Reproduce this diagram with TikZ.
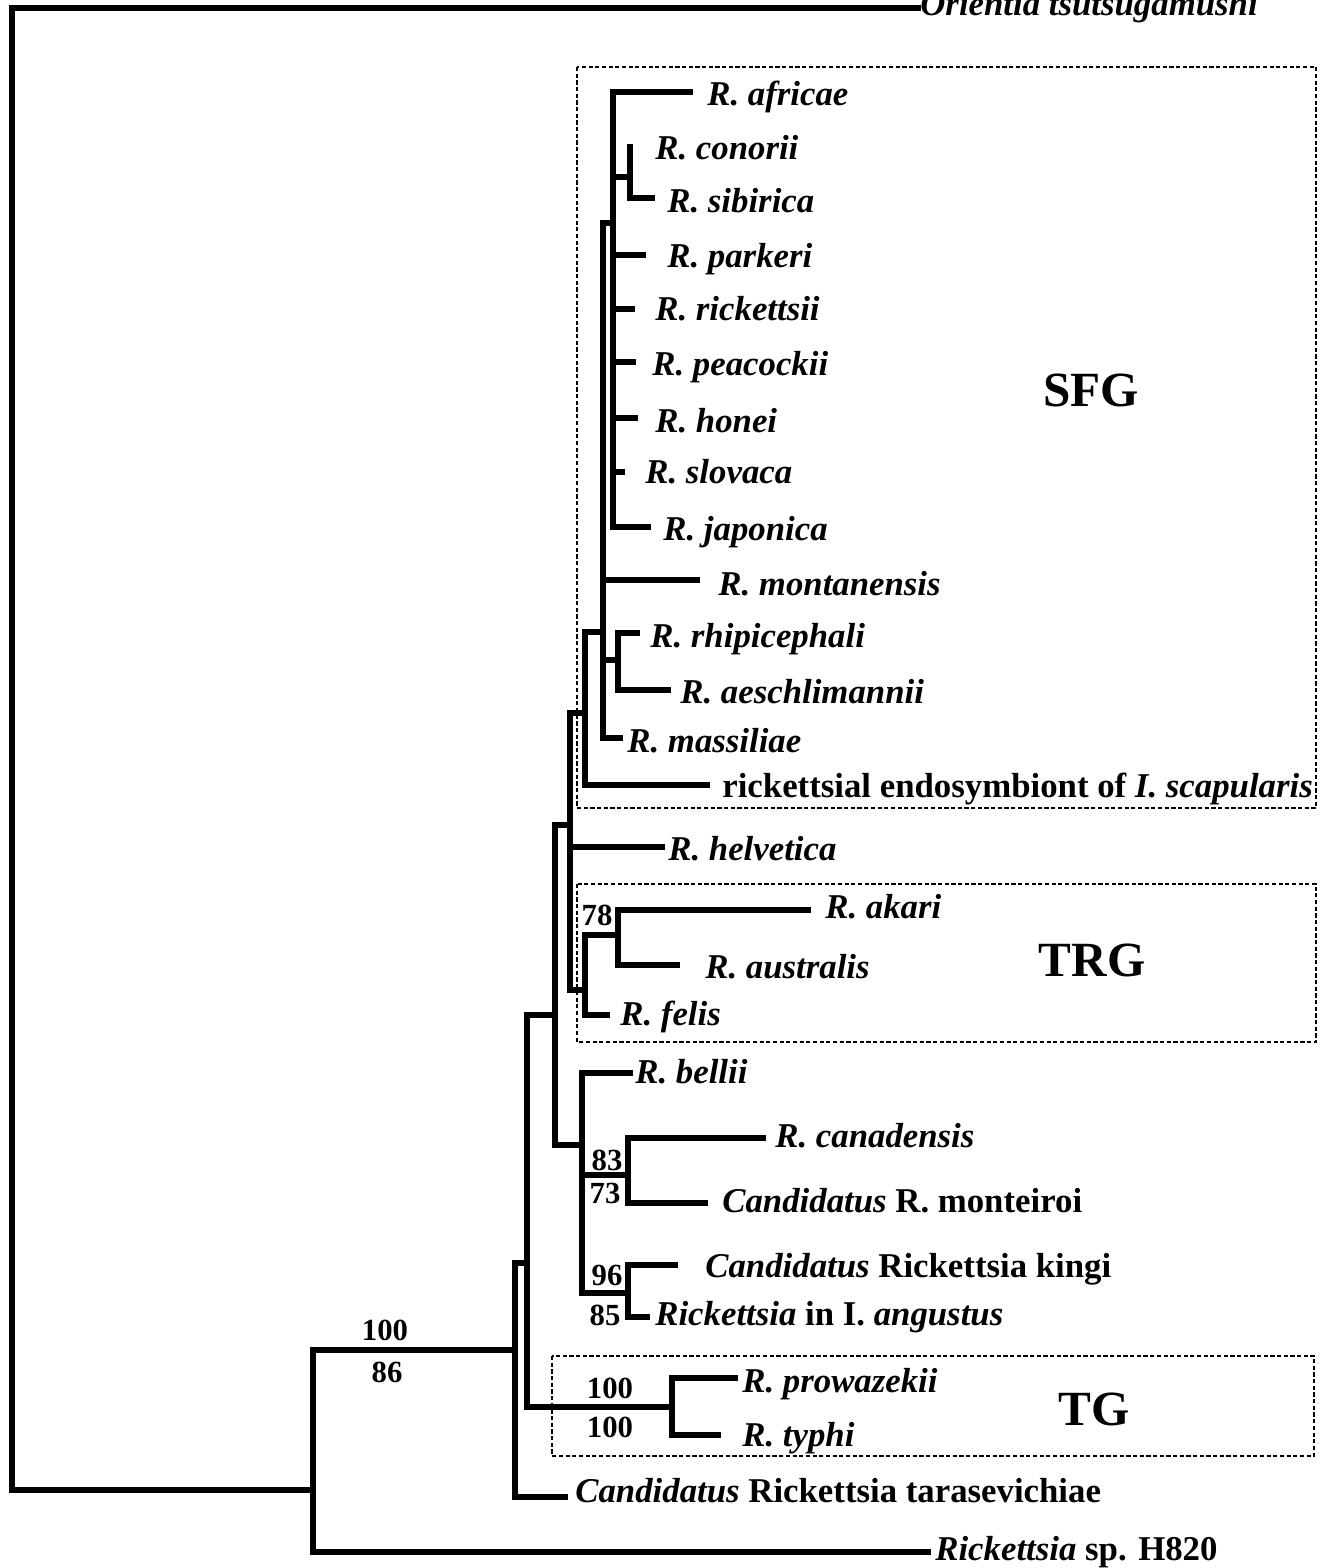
\documentclass[tikz,border=0pt]{standalone}
\usepackage{fontspec}
\setmainfont{Liberation Serif}
\tikzset{
  branch/.style={line width=3.1pt, line cap=rect, line join=miter},
  taxon/.style={anchor=base west, inner sep=0pt, font=\fontsize{19.8}{21}\selectfont\bfseries},
  boot/.style={anchor=base, inner sep=0pt, font=\fontsize{17.5}{19}\selectfont\bfseries},
  group-box/.style={draw=black, line width=0.75pt, dash pattern=on 2.4pt off 1.4pt},
  group-label/.style={anchor=base, inner sep=0pt, font=\fontsize{28}{30}\selectfont\bfseries}
}

\begin{document}
\begin{tikzpicture}[x=0.02cm, y=-0.02cm]
  \useasboundingbox (0,0) rectangle (1322,1568);
  % clade boxes
  \draw[group-box] (577,67) rectangle (1316,808);
  \draw[group-box] (577,884) rectangle (1316,1042);
  \draw[group-box] (552,1356) rectangle (1314,1456);
  \node[group-label] (sfg-lab) at (1091,406) {SFG};
  \node[group-label] (trg-lab) at (1092,976) {TRG};
  \node[group-label] (tg-lab) at (1094,1425) {TG};

  % internal nodes
  \coordinate (root) at (12,1490);
  \coordinate (n1) at (313,1490);
  \coordinate (n2) at (515,1350);
  \coordinate (n3) at (527,1263);
  \coordinate (tg) at (672,1407);
  \coordinate (n4) at (555,1015);
  \coordinate (n5) at (570,825);
  \coordinate (trg) at (585,990);
  \coordinate (aa) at (618,935);
  \coordinate (sfg) at (585,713);
  \coordinate (sfg-a) at (603,632);
  \coordinate (core) at (613,223);
  \coordinate (cs) at (630,177);
  \coordinate (rha) at (618,660);
  \coordinate (bel) at (582,1145);
  \coordinate (cm) at (628,1175);
  \coordinate (ka) at (628,1293);

  % branch tips
  \coordinate (ori-e) at (918,8);
  \coordinate (afr-e) at (690,92);
  \coordinate (con-e) at (630,147);
  \coordinate (sib-e) at (652,198);
  \coordinate (par-e) at (643,255);
  \coordinate (ric-e) at (632,309);
  \coordinate (pea-e) at (633,362);
  \coordinate (hon-e) at (635,418);
  \coordinate (slo-e) at (622,472);
  \coordinate (jap-e) at (648,527);
  \coordinate (mon-e) at (697,580);
  \coordinate (rhi-e) at (637,633);
  \coordinate (aes-e) at (668,690);
  \coordinate (mas-e) at (620,738);
  \coordinate (end-e) at (707,785);
  \coordinate (hel-e) at (662,847);
  \coordinate (aka-e) at (808,910);
  \coordinate (aus-e) at (677,965);
  \coordinate (fel-e) at (607,1015);
  \coordinate (bel-e) at (630,1073);
  \coordinate (can-e) at (763,1138);
  \coordinate (mnt-e) at (705,1203);
  \coordinate (kin-e) at (675,1265);
  \coordinate (ang-e) at (647,1317);
  \coordinate (pro-e) at (735,1378);
  \coordinate (typ-e) at (718,1435);
  \coordinate (tar-e) at (565,1497);
  \coordinate (h82-e) at (928,1552);

  % taxa
  \node[taxon] (ori) at (920,16) {\textit{Orientia tsutsugamushi}};
  \node[taxon] (afr) at (707,106) {\textit{R. africae}};
  \node[taxon] (con) at (655,159) {\textit{R. conorii}};
  \node[taxon] (sib) at (667,212) {\textit{R. sibirica}};
  \node[taxon] (par) at (667,267) {\textit{R. parkeri}};
  \node[taxon] (ric) at (655,320) {\textit{R. rickettsii}};
  \node[taxon] (pea) at (652,375) {\textit{R. peacockii}};
  \node[taxon] (hon) at (655,432) {\textit{R. honei}};
  \node[taxon] (slo) at (645,483) {\textit{R. slovaca}};
  \node[taxon] (jap) at (663,540) {\textit{R. japonica}};
  \node[taxon] (mon) at (718,595) {\textit{R. montanensis}};
  \node[taxon] (rhi) at (650,647) {\textit{R. rhipicephali}};
  \node[taxon] (aes) at (680,703) {\textit{R. aeschlimannii}};
  \node[taxon] (mas) at (627,752) {\textit{R. massiliae}};
  \node[taxon] (end) at (722,797) {rickettsial endosymbiont of \textit{I. scapularis}};
  \node[taxon] (hel) at (668,860) {\textit{R. helvetica}};
  \node[taxon] (aka) at (825,918) {\textit{R. akari}};
  \node[taxon] (aus) at (705,978) {\textit{R. australis}};
  \node[taxon] (fel) at (620,1025) {\textit{R. felis}};
  \node[taxon] (bll) at (635,1083) {\textit{R. bellii}};
  \node[taxon] (can) at (775,1147) {\textit{R. canadensis}};
  \node[taxon] (mnt) at (722,1212) {\textit{Candidatus} R. monteiroi};
  \node[taxon] (kin) at (705,1277) {\textit{Candidatus} Rickettsia kingi};
  \node[taxon] (ang) at (655,1325) {\textit{Rickettsia} in I. \textit{angustus}};
  \node[taxon] (pro) at (742,1392) {\textit{R. prowazekii}};
  \node[taxon] (typ) at (742,1446) {\textit{R. typhi}};
  \node[taxon] (tar) at (575,1502) {\textit{Candidatus} Rickettsia tarasevichiae};
  \node[taxon] (h82) at (935,1560) {\textit{Rickettsia} sp. H820};

  % bootstrap values
  \node[boot] (b-n2a) at (385,1340) {100};
  \node[boot] (b-n2b) at (387,1382) {86};
  \node[boot] (b-aa) at (597,925) {78};
  \node[boot] (b-cma) at (607,1170) {83};
  \node[boot] (b-cmb) at (605,1203) {73};
  \node[boot] (b-kaa) at (607,1285) {96};
  \node[boot] (b-kab) at (605,1325) {85};
  \node[boot] (b-tga) at (610,1398) {100};
  \node[boot] (b-tgb) at (610,1437) {100};

  % the tree
  \draw[branch] (root) |- (ori-e);
  \draw[branch] (root) |- (n1);
  \draw[branch] (n1) |- (n2);
  \draw[branch] (n1) |- (h82-e);
  \draw[branch] (n2) |- (n3);
  \draw[branch] (n2) |- (tar-e);
  \draw[branch] (n3) |- (n4);
  \draw[branch] (n3) |- (tg);
  \draw[branch] (tg) |- (pro-e);
  \draw[branch] (tg) |- (typ-e);
  \draw[branch] (n4) |- (n5);
  \draw[branch] (n4) |- (bel);
  \draw[branch] (n5) |- (sfg);
  \draw[branch] (n5) |- (hel-e);
  \draw[branch] (n5) |- (trg);
  \draw[branch] (trg) |- (aa);
  \draw[branch] (trg) |- (fel-e);
  \draw[branch] (aa) |- (aka-e);
  \draw[branch] (aa) |- (aus-e);
  \draw[branch] (sfg) |- (sfg-a);
  \draw[branch] (sfg) |- (end-e);
  \draw[branch] (sfg-a) |- (core);
  \draw[branch] (sfg-a) |- (mon-e);
  \draw[branch] (sfg-a) |- (rha);
  \draw[branch] (sfg-a) |- (mas-e);
  \draw[branch] (rha) |- (rhi-e);
  \draw[branch] (rha) |- (aes-e);
  \foreach \t in {afr,par,ric,pea,hon,slo,jap}
    \draw[branch] (core) |- (\t-e);
  \draw[branch] (core) |- (cs);
  \draw[branch] (cs) |- (con-e);
  \draw[branch] (cs) |- (sib-e);
  \draw[branch] (bel) |- (bel-e);
  \draw[branch] (bel) |- (cm);
  \draw[branch] (bel) |- (ka);
  \draw[branch] (cm) |- (can-e);
  \draw[branch] (cm) |- (mnt-e);
  \draw[branch] (ka) |- (kin-e);
  \draw[branch] (ka) |- (ang-e);
\end{tikzpicture}
\end{document}
